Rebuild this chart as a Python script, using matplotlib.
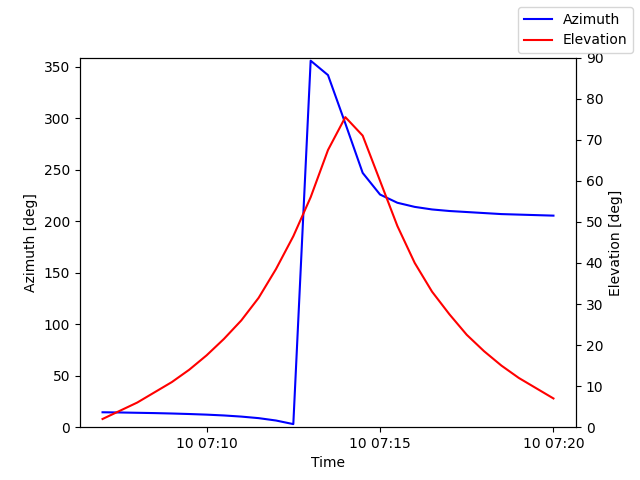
import numpy as np
import pandas as pd
import matplotlib
matplotlib.use("Agg")
import matplotlib.pyplot as plt

times = pd.date_range("2024-01-10 07:07:00", periods=27, freq="30s")
azimuth = [14.5, 14.3, 14.0, 13.7, 13.3, 12.8, 12.2, 11.4, 10.3, 8.8, 6.5, 3.0,
           356, 342, 295, 247, 226, 218, 214, 211.5, 210, 209, 208, 207, 206.5, 206, 205.5]
elevation = [2, 4, 6, 8.5, 11, 14, 17.5, 21.5, 26, 31.5, 38.5, 46.5, 56, 67.5, 75.5,
             71, 60, 49, 40, 33, 27.5, 22.5, 18.5, 15, 12, 9.5, 7]

fig, ax = plt.subplots(figsize=(6.4, 4.8))
ax.plot(times, azimuth, color="blue", label="Azimuth")
ax.set_ylim(0, 359)
ax.set_xlabel("Time")
ax.set_ylabel("Azimuth [deg]")
ax2 = ax.twinx()
ax2.plot(times, elevation, color="red", label="Elevation")
ax2.set_ylim(0, 90)
ax2.set_ylabel("Elevation [deg]")
fig.legend(loc="upper right")
fig.savefig("out.png", dpi=100)
